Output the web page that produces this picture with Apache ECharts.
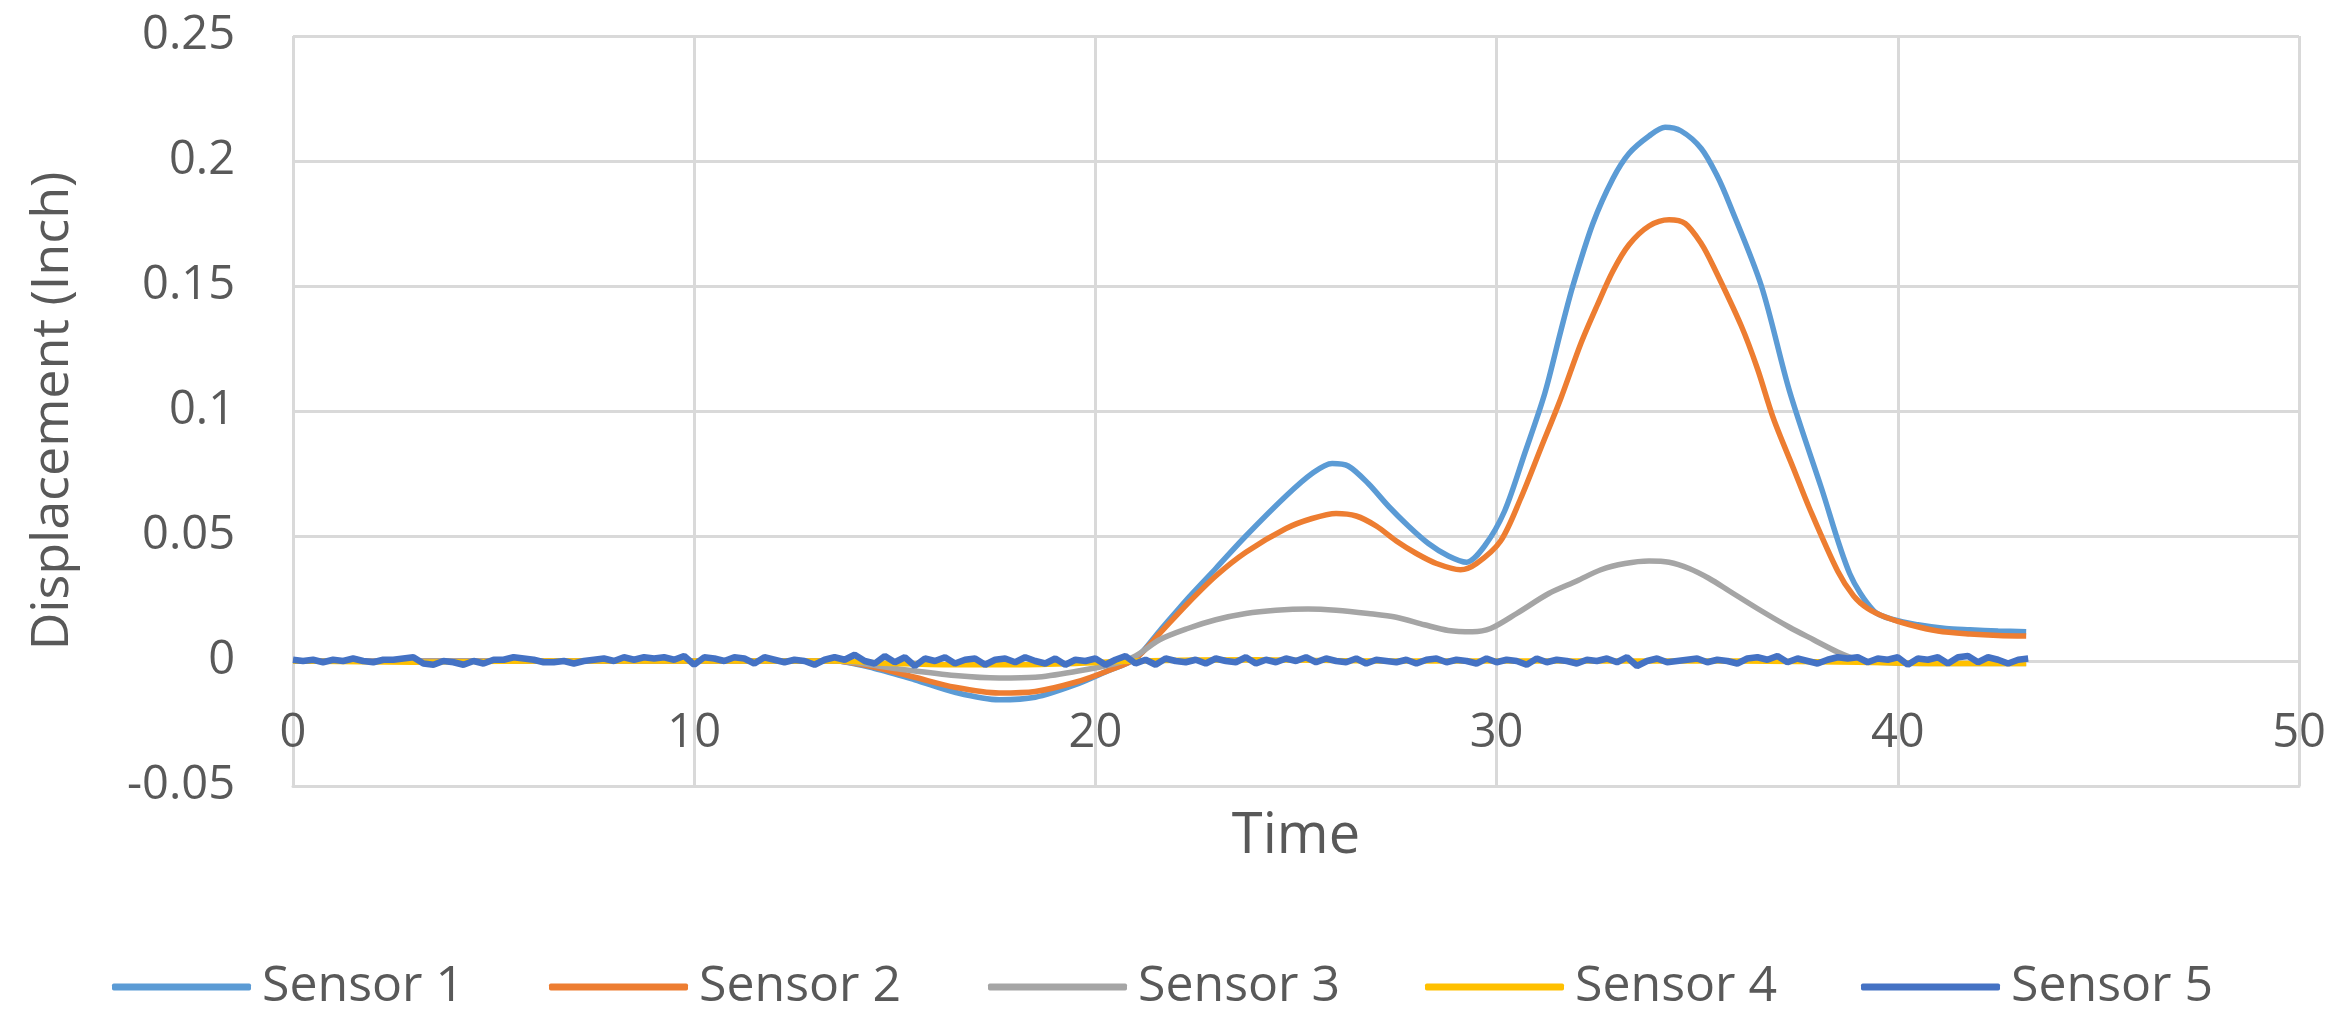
<!DOCTYPE html>
<html>
<head>
<meta charset="utf-8">
<script src="https://cdn.jsdelivr.net/npm/echarts@6/dist/echarts.min.js"></script>
<style>
html,body{margin:0;padding:0;background:#fff;}
#chart{width:2340px;height:1009px;}
</style>
</head>
<body>
<div id="chart"></div>
<script>
// ---- data ----
const seriesNames = ['Sensor 1', 'Sensor 2', 'Sensor 3', 'Sensor 4', 'Sensor 5'];
const seriesColors = ['#5B9BD5', '#ED7D31', '#A5A5A5', '#FFC000', '#4472C4'];

const s1Time = [0, 13.5, 14.5, 15.5, 16.5, 17.6, 18.5, 19.5, 20.3, 21.0, 21.6, 22.3, 23.0, 23.75, 24.75, 25.4, 25.9, 26.3, 26.8, 27.3, 27.8, 28.3, 28.8, 29.25, 29.7, 30.2, 30.7, 31.2, 31.6, 31.9, 32.4, 32.9, 33.3, 33.8, 34.2, 34.6, 35.1, 35.5, 35.8, 36.6, 37.3, 38.1, 38.8, 39.4, 39.9, 40.5, 41.2, 41.8, 42.5, 43.2];
const s1Val  = [0, 0, -0.003, -0.0075, -0.0125, -0.0155, -0.0145, -0.0095, -0.004, 0.001, 0.012, 0.025, 0.037, 0.050, 0.066, 0.075, 0.079, 0.078, 0.071, 0.062, 0.054, 0.047, 0.042, 0.0395, 0.046, 0.060, 0.083, 0.107, 0.132, 0.150, 0.175, 0.193, 0.203, 0.210, 0.2135, 0.212, 0.205, 0.194, 0.183, 0.150, 0.108, 0.069, 0.035, 0.020, 0.0165, 0.0145, 0.013, 0.0125, 0.012, 0.0117];

const s2Time = [0, 13.5, 14.5, 15.5, 16.5, 17.6, 18.5, 19.5, 20.3, 21.0, 21.6, 22.3, 23.0, 23.75, 24.75, 25.4, 26.0, 26.5, 27.0, 27.5, 28.0, 28.5, 29.1, 29.5, 30.1, 30.6, 31.1, 31.6, 32.1, 32.5, 32.9, 33.3, 33.8, 34.3, 34.7, 35.1, 35.4, 36.1, 36.5, 36.9, 37.4, 37.8, 38.5, 38.9, 39.25, 39.7, 40.3, 41.0, 41.8, 42.5, 43.2];
const s2Val  = [0, 0, -0.0025, -0.0065, -0.0105, -0.0128, -0.0122, -0.0085, -0.004, 0.001, 0.011, 0.023, 0.034, 0.0435, 0.053, 0.057, 0.059, 0.058, 0.054, 0.048, 0.043, 0.039, 0.0365, 0.039, 0.048, 0.065, 0.085, 0.105, 0.127, 0.142, 0.156, 0.1665, 0.174, 0.1765, 0.175, 0.167, 0.158, 0.134, 0.117, 0.097, 0.077, 0.061, 0.036, 0.026, 0.021, 0.0175, 0.0145, 0.012, 0.0108, 0.0102, 0.0100];

const s3Time = [0, 13.5, 15.0, 16.5, 17.6, 18.5, 19.5, 20.5, 21.0, 21.6, 22.3, 23.0, 23.75, 24.5, 25.3, 26.0, 26.8, 27.5, 28.2, 28.8, 29.4, 29.85, 30.5, 31.3, 32.0, 32.6, 33.2, 33.8, 34.3, 34.8, 35.3, 35.8, 36.5, 37.3, 37.9, 38.5, 39.0, 39.5, 40.5, 42.0, 43.2];
const s3Val  = [0, 0, -0.003, -0.0058, -0.0068, -0.0065, -0.0042, -0.001, 0.002, 0.0085, 0.013, 0.0165, 0.019, 0.0203, 0.0208, 0.0203, 0.019, 0.0175, 0.0145, 0.0122, 0.0117, 0.013, 0.019, 0.027, 0.032, 0.0365, 0.039, 0.040, 0.0395, 0.037, 0.033, 0.028, 0.021, 0.0135, 0.0085, 0.0036, 0.0005, -0.0005, -0.001, -0.001, -0.001];

const s4Time = [0, 3, 6, 9, 12, 13.5, 15, 16.5, 18, 19.5, 21, 24, 27, 30, 33, 36, 39, 41, 43.2];
const s4Val  = [0, -0.0005, 0, 0, 0, 0, -0.001, -0.0015, -0.0015, -0.001, 0, 0.0005, 0, 0, 0, 0, -0.0005, -0.001, -0.001];

// Sensor 5: noisy trace sampled every 0.25 s starting at 0
const s5Start = 0;
const s5Step = 0.25;
const s5Val = [
  0.0005, 0, 0.0005, -0.0005, 0.0005, 0, 0.001, 0, -0.0005, 0.0005,
  0.0005, 0.001, 0.0015, -0.001, -0.0015, 0, -0.0005, -0.0015, 0, -0.001,
  0.0005, 0.0005, 0.0015, 0.001, 0.0005, -0.0005, -0.0005, 0, -0.001, 0,
  0.0005, 0.001, 0, 0.0015, 0.0005, 0.0015, 0.001, 0.0015, 0.0005, 0.002,
  -0.0015, 0.0015, 0.001, 0, 0.0015, 0.001, -0.001, 0.0015, 0.0005, -0.0005,
  0.0005, 0, -0.0015, 0.0005, 0.0015, 0.0005, 0.0025, 0, -0.001, 0.002,
  -0.0005, 0.0015, -0.002, 0.001, 0, 0.0015, -0.001, 0.0005, 0.001, -0.0015,
  0.0005, 0.001, -0.0005, 0.0015, 0, -0.001, 0.001, -0.0015, 0.0005, 0,
  0.001, -0.0015, 0.0005, 0.002, -0.001, 0.0005, -0.0015, 0.001, 0, -0.0005,
  0.0005, -0.001, 0.001, 0, -0.0005, 0.0015, -0.001, 0.0005, -0.0005, 0.001,
  0, 0.0015, -0.0005, 0.001, 0, -0.0005, 0.001, -0.001, 0.0005, 0,
  -0.0005, 0.0005, -0.001, 0.0005, 0.001, -0.0005, 0.0005, 0, -0.001, 0.001,
  -0.0005, 0.0005, 0, -0.0015, 0.001, -0.0005, 0.0005, 0, -0.001, 0.0005,
  0, 0.001, -0.0005, 0.0015, -0.002, 0, 0.001, -0.0005, 0, 0.0005,
  0.001, -0.0005, 0.0005, 0, -0.001, 0.001, 0.0015, 0.0005, 0.002, -0.0005,
  0.001, 0, -0.001, 0.0005, 0.0015, 0.001, 0.0015, -0.0005, 0.001, 0.0005,
  0.0015, -0.0015, 0.001, 0.0005, 0.0015, -0.001, 0.0015, 0.002, -0.0005, 0.0015,
  0.0005, -0.001, 0.0005, 0.001
];

const xTicks = { min: 0, max: 50, interval: 10 };
const yTicks = { min: -0.05, max: 0.25, interval: 0.05 };
const xTitle = 'Time';
const yTitle = 'Displacement (Inch)';

// ---- build ----
function pairs(t, v) { return t.map((x, i) => [x, v[i]]); }
const s5Data = s5Val.map((v, i) => [s5Start + i * s5Step, v]);

const textColor = '#595959';
const gridColor = '#D9D9D9';
const font = 'Open Sans';

const seriesData = [pairs(s1Time, s1Val), pairs(s2Time, s2Val), pairs(s3Time, s3Val), pairs(s4Time, s4Val), s5Data];
const legendLeft = [112, 549, 988, 1425, 1861];

const chart = echarts.init(document.getElementById('chart'), null, { renderer: 'canvas' });
chart.setOption({
  animation: false,
  backgroundColor: '#ffffff',
  textStyle: { fontFamily: font },
  grid: { left: 293, right: 41, top: 36, bottom: 223, containLabel: false },
  xAxis: {
    type: 'value',
    min: xTicks.min, max: xTicks.max, interval: xTicks.interval,
    name: xTitle, nameLocation: 'middle', nameGap: 23,
    nameTextStyle: { fontSize: 56, color: textColor, fontFamily: font },
    axisLine: { show: true, onZero: false, lineStyle: { color: gridColor, width: 3 } },
    axisTick: { show: false },
    axisLabel: { fontSize: 47, color: textColor, margin: -76, fontFamily: font },
    splitLine: { show: true, lineStyle: { color: gridColor, width: 3 } }
  },
  yAxis: {
    type: 'value',
    min: yTicks.min, max: yTicks.max, interval: yTicks.interval,
    name: yTitle, nameLocation: 'middle', nameGap: 214, nameRotate: 90,
    nameTextStyle: { fontSize: 52, color: textColor, fontFamily: font },
    axisLine: { show: false },
    axisTick: { show: false },
    axisLabel: { fontSize: 47, color: textColor, margin: 58, fontFamily: font },
    splitLine: { show: true, lineStyle: { color: gridColor, width: 3 } }
  },
  legend: seriesNames.map((n, i) => ({
    data: [n],
    left: legendLeft[i],
    top: 962,
    padding: 0,
    icon: 'roundRect',
    itemWidth: 139,
    itemHeight: 7,
    itemGap: 0,
    textStyle: { fontSize: 50, color: textColor, fontFamily: font, padding: [0, 0, 0, 6] }
  })),
  series: seriesNames.map((n, i) => ({
    name: n,
    type: 'line',
    data: seriesData[i],
    showSymbol: false,
    smooth: i === 4 ? false : 0.3,
    color: seriesColors[i],
    lineStyle: { width: i === 4 ? 6.5 : 5.5, color: seriesColors[i] },
    z: 2 + i
  }))
});
</script>
</body>
</html>
